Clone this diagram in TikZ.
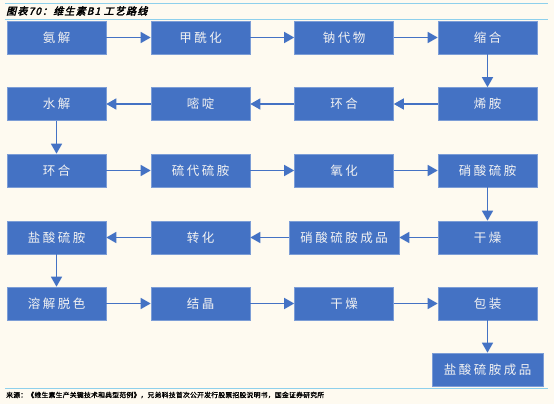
\documentclass[tikz,border=0pt]{standalone}
\usepackage{fontspec}
\usetikzlibrary{arrows.meta}
\newfontfamily\cjk[LetterSpace=20]{Noto Sans CJK SC}
\newfontfamily\titlefont[FakeSlant=0.25,FakeBold=3,LetterSpace=12]{Noto Sans CJK SC}
\newfontfamily\footfont[FakeBold=1.5,LetterSpace=4]{Noto Sans CJK SC}
\definecolor{bg}{HTML}{FEFAF0}
\definecolor{boxfill}{HTML}{4472C4}
\definecolor{boxline}{HTML}{7C9DD6}
\definecolor{rule}{HTML}{8ED0EC}
\definecolor{txt}{HTML}{F2F2F2}
\tikzset{
  stepbox/.style={draw=boxline, line width=0.6pt, fill=boxfill, minimum width=99pt, minimum height=33pt, inner sep=0pt, text=txt, font=\cjk\fontsize{12.5}{14}\selectfont},
  widebox/.style={stepbox, minimum width=110pt},
  flow/.style={draw=boxfill, line width=1.4pt, -{Triangle[length=10pt,width=11pt]}}
}
\begin{document}
\begin{tikzpicture}[x=1pt,y=-1pt]
\fill[bg] (0,0) rectangle (554,404);
\useasboundingbox (0,0) rectangle (554,404);
\draw[rule, line width=0.8pt] (5,3) -- (548,3);
\draw[rule, line width=0.8pt] (5,19.5) -- (548,19.5);
\draw[rule, line width=0.8pt] (5,388) -- (548,388);
\node[anchor=west, inner sep=0pt, font=\titlefont\fontsize{10}{11}\selectfont] (title) at (6,11) {图表70：维生素B1 工艺路线};
\node[anchor=west, inner sep=0pt, font=\footfont\fontsize{6.8}{8}\selectfont] (foot) at (6,395) {来源：《维生素生产关键技术和典型范例》，兄弟科技首次公开发行股票招股说明书，国金证券研究所};
% row 1
\node[stepbox] (a1) at (56.5,37.5) {氨解};
\node[stepbox] (a2) at (200.5,37.5) {甲酰化};
\node[stepbox] (a3) at (344,37.5) {钠代物};
\node[stepbox] (a4) at (487.5,37.5) {缩合};
% row 2
\node[stepbox] (b1) at (56.5,104) {水解};
\node[stepbox] (b2) at (200.5,104) {嘧啶};
\node[stepbox] (b3) at (344,104) {环合};
\node[stepbox] (b4) at (487.5,104) {烯胺};
% row 3
\node[stepbox] (c1) at (56.5,170.5) {环合};
\node[stepbox] (c2) at (200.5,170.5) {硫代硫胺};
\node[stepbox] (c3) at (344,170.5) {氧化};
\node[stepbox] (c4) at (487.5,170.5) {硝酸硫胺};
% row 4
\node[stepbox] (d1) at (56.5,237.5) {盐酸硫胺};
\node[stepbox] (d2) at (200.5,237.5) {转化};
\node[widebox] (d3) at (344,237.5) {硝酸硫胺成品};
\node[stepbox] (d4) at (487.5,237.5) {干燥};
% row 5
\node[stepbox] (e1) at (56.5,303.5) {溶解脱色};
\node[stepbox] (e2) at (200.5,303.5) {结晶};
\node[stepbox] (e3) at (344,303.5) {干燥};
\node[stepbox] (e4) at (487.5,303.5) {包装};
% row 6
\node[stepbox, minimum width=111pt] (f4) at (487.5,369.5) {盐酸硫胺成品};
% connectors
\draw[flow] (a1) -- (a2);
\draw[flow] (a2) -- (a3);
\draw[flow] (a3) -- (a4);
\draw[flow] (a4) -- (b4);
\draw[flow] (b4) -- (b3);
\draw[flow] (b3) -- (b2);
\draw[flow] (b2) -- (b1);
\draw[flow] (b1) -- (c1);
\draw[flow] (c1) -- (c2);
\draw[flow] (c2) -- (c3);
\draw[flow] (c3) -- (c4);
\draw[flow] (c4) -- (d4);
\draw[flow] (d4) -- (d3);
\draw[flow] (d3) -- (d2);
\draw[flow] (d2) -- (d1);
\draw[flow] (d1) -- (e1);
\draw[flow] (e1) -- (e2);
\draw[flow] (e2) -- (e3);
\draw[flow] (e3) -- (e4);
\draw[flow] (e4) -- (f4);
\end{tikzpicture}
\end{document}
